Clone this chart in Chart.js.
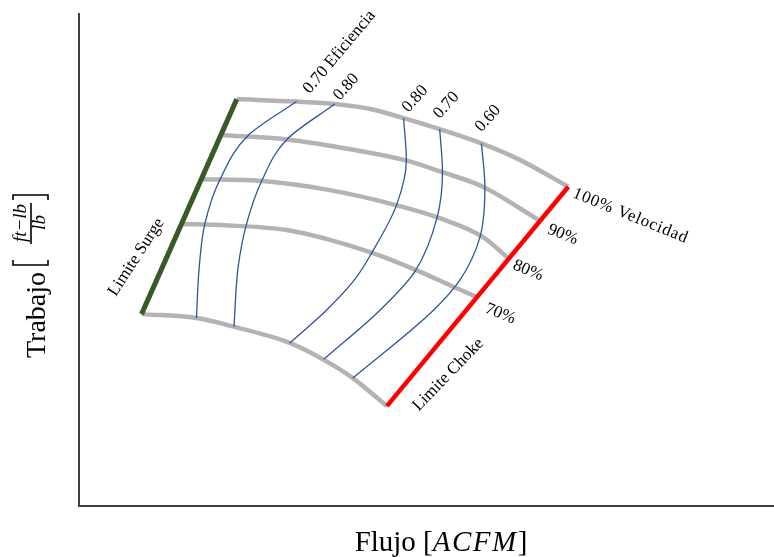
<!DOCTYPE html>
<html>
<head>
<meta charset="utf-8">
<title>Mapa de compresor</title>
<script src="https://cdn.jsdelivr.net/npm/chart.js@4.4.1/dist/chart.umd.min.js"></script>
<style>
    body { margin: 0; background: #fff; }
    #wrap { width: 774px; height: 557px; }
</style>
</head>
<body>
<div id="wrap"><canvas id="mapChart"></canvas></div>
<script>
// Speed lines [flow, work] (axis has no ticks, so 0-100 of each axis)
const speed100 = [[22.7, 82.7], [31.3, 82.2], [36.8, 81.7], [41.9, 80.7], [46.6, 78.9], [51.9, 76.6], [57.9, 73.7], [63.5, 70.3], [70.4, 64.9]];
const speed90 = [[20.4, 75.4], [29.9, 74.5], [39.5, 72.4], [46.9, 70.3], [52.2, 67.9], [58.1, 64.9], [66.3, 58.0]];
const speed80 = [[17.6, 66.4], [26.0, 66.1], [36.1, 64.2], [45.5, 61.2], [51.9, 58.5], [58.1, 54.7], [61.8, 50.3]];
const speed70 = [[14.7, 57.3], [20.3, 57.1], [29.9, 56.1], [36.1, 54.1], [42.3, 51.4], [49.1, 47.6], [53.8, 44.6], [57.2, 42.5]];
const speedMin = [[9.0, 39.0], [16.9, 38.2], [22.4, 36.4], [30.4, 33.1], [35.1, 29.8], [39.4, 26.0], [44.3, 20.3]];
const speedLabels = ['100% Velocidad', '90%', '80%', '70%'];

// Surge and choke limits
const surgeLine = [[9.0, 39.0], [22.7, 82.7]];
const chokeLine = [[44.3, 20.3], [70.4, 64.9]];

// Efficiency lines
const eff70Left = [[31.3, 82.2], [24.4, 75.4], [20.3, 66.4], [18.1, 57.3], [17.3, 48.6], [16.9, 38.2]];
const eff80Left = [[36.8, 81.7], [29.9, 74.5], [26.3, 66.1], [24.1, 57.3], [22.9, 48.6], [22.3, 36.4]];
const eff80Right = [[46.7, 78.8], [47.1, 70.3], [45.7, 61.2], [42.1, 51.4], [39.6, 45.9], [35.6, 39.8], [30.3, 33.1]];
const eff70Right = [[51.9, 76.6], [52.3, 67.9], [51.5, 58.5], [48.3, 47.6], [43.3, 39.8], [35.2, 29.8]];
const eff60Right = [[57.9, 73.7], [58.4, 64.9], [57.7, 54.7], [54.8, 45.9], [51.0, 39.8], [39.4, 26.0]];
const effLabels = ['0.70 Eficiencia', '0.80', '0.80', '0.70', '0.60'];

// Where the rotated labels sit
const notes = [
    { text: effLabels[0], x: 33.2, y: 83.7, angle: -50 },
    { text: effLabels[1], x: 37.5, y: 82.3, angle: -48 },
    { text: effLabels[2], x: 47.4, y: 79.9, angle: -48 },
    { text: effLabels[3], x: 51.9, y: 78.6, angle: -48 },
    { text: effLabels[4], x: 57.9, y: 75.9, angle: -48 },
    { text: speedLabels[0], x: 70.9, y: 62.8, angle: 22, spacing: '0.8px' },
    { text: speedLabels[1], x: 67.3, y: 55.5, angle: 22 },
    { text: speedLabels[2], x: 62.3, y: 48.2, angle: 22 },
    { text: speedLabels[3], x: 58.3, y: 39.4, angle: 22 },
    { text: 'Limite Surge', x: 5.3, y: 42.5, angle: -57 },
    { text: 'Limite Choke', x: 48.9, y: 19.2, angle: -46 }
];

const SERIF = '"Liberation Serif", "Times New Roman", serif';

function toPoints(list) {
    return list.map(p => ({ x: p[0], y: p[1] }));
}

function lineSet(list, color, width, order, extra) {
    return Object.assign({
        data: toPoints(list),
        borderColor: color,
        borderWidth: width,
        pointRadius: 0,
        fill: false,
        order: order
    }, extra);
}

// smooth along x for speed lines, along y for efficiency lines
const speedCurve = { cubicInterpolationMode: 'monotone' };
const effCurve = { cubicInterpolationMode: 'monotone', indexAxis: 'y' };

// Draws the rotated labels and both axis titles
const textPlugin = {
    id: 'mapText',
    afterDraw(chart) {
        const ctx = chart.ctx;
        const xs = chart.scales.x;
        const ys = chart.scales.y;
        ctx.save();
        ctx.fillStyle = '#000';
        ctx.textBaseline = 'alphabetic';
        ctx.textAlign = 'left';

        notes.forEach(n => {
            ctx.save();
            ctx.font = '17px ' + SERIF;
            ctx.letterSpacing = n.spacing || '0px';
            ctx.translate(xs.getPixelForValue(n.x), ys.getPixelForValue(n.y));
            ctx.rotate(n.angle * Math.PI / 180);
            ctx.fillText(n.text, 0, 0);
            ctx.restore();
        });

        // x title: Flujo [ACFM]
        const parts = [['Flujo [', '', '0px'], ['ACFM', 'italic ', '1.5px'], [']', '', '0px']];
        let total = 0;
        parts.forEach(p => {
            ctx.font = p[1] + '29px ' + SERIF;
            ctx.letterSpacing = p[2];
            total += ctx.measureText(p[0]).width;
        });
        let cx = 441 - total / 2;
        parts.forEach(p => {
            ctx.font = p[1] + '29px ' + SERIF;
            ctx.letterSpacing = p[2];
            ctx.fillText(p[0], cx, 551);
            cx += ctx.measureText(p[0]).width;
        });
        ctx.letterSpacing = '0px';

        // y title: Trabajo [ft-lb / lb]
        ctx.translate(45, 358);
        ctx.rotate(-Math.PI / 2);
        ctx.font = '28px ' + SERIF;
        ctx.fillText('Trabajo', 0, 0);

        ctx.strokeStyle = '#000';
        ctx.lineWidth = 1.6;
        ctx.beginPath();
        ctx.moveTo(98, -32); ctx.lineTo(93, -32); ctx.lineTo(93, 3); ctx.lineTo(98, 3);
        ctx.moveTo(158, -32); ctx.lineTo(163, -32); ctx.lineTo(163, 3); ctx.lineTo(158, 3);
        ctx.moveTo(114, -14); ctx.lineTo(155, -14);
        ctx.stroke();

        ctx.font = 'italic 19px ' + SERIF;
        ctx.textAlign = 'center';
        ctx.fillText('ft\u2212lb', 135, -19);
        ctx.fillText('lb', 135.5, 0);
        ctx.restore();
    }
};

const GRAY = '#b5b2b2';
const BLUE = '#2e5597';

new Chart(document.getElementById('mapChart'), {
    type: 'line',
    data: {
        datasets: [
            lineSet(surgeLine, '#3a5a25', 5, 0, { tension: 0 }),
            lineSet(chokeLine, '#ff0000', 4.5, 0, { tension: 0 }),
            lineSet(eff70Left, BLUE, 1.3, 1, effCurve),
            lineSet(eff80Left, BLUE, 1.3, 1, effCurve),
            lineSet(eff80Right, BLUE, 1.3, 1, effCurve),
            lineSet(eff70Right, BLUE, 1.3, 1, effCurve),
            lineSet(eff60Right, BLUE, 1.3, 1, effCurve),
            lineSet(speed100, GRAY, 4.5, 2, speedCurve),
            lineSet(speed90, GRAY, 4.5, 2, speedCurve),
            lineSet(speed80, GRAY, 4.5, 2, speedCurve),
            lineSet(speed70, GRAY, 4.5, 2, speedCurve),
            lineSet(speedMin, GRAY, 4.5, 2, speedCurve)
        ]
    },
    options: {
        responsive: true,
        maintainAspectRatio: false,
        animation: false,
        layout: { padding: { left: 79, top: 14, right: 0, bottom: 51 } },
        plugins: {
            legend: { display: false },
            tooltip: { enabled: false }
        },
        scales: {
            x: {
                type: 'linear', min: 0, max: 100,
                ticks: { display: false },
                grid: { display: false, drawTicks: false },
                border: { color: '#404040', width: 2 }
            },
            y: {
                type: 'linear', min: 0, max: 100,
                ticks: { display: false },
                grid: { display: false, drawTicks: false },
                border: { color: '#404040', width: 2 }
            }
        }
    },
    plugins: [textPlugin]
});
</script>
</body>
</html>
